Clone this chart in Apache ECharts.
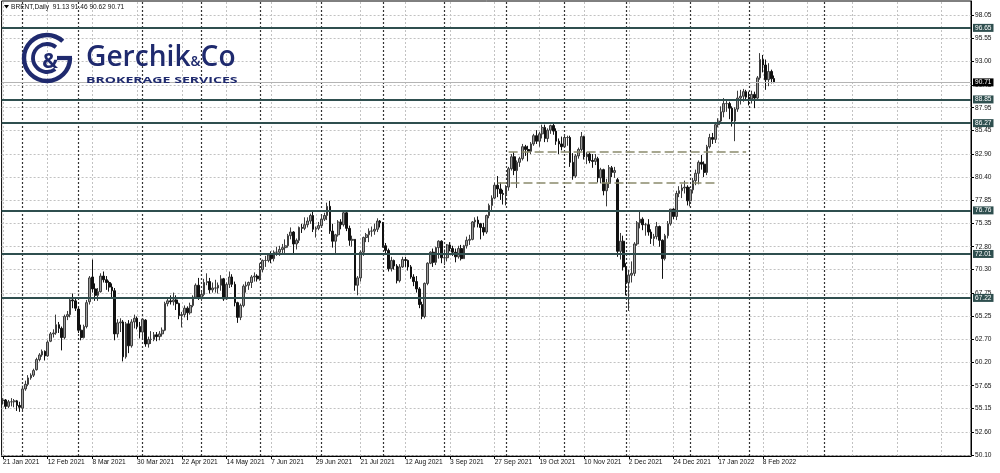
<!DOCTYPE html>
<html><head><meta charset="utf-8">
<script src="https://cdn.jsdelivr.net/npm/echarts@6/dist/echarts.min.js"></script>
<style>html,body{margin:0;padding:0;background:#fff}#c{width:1000px;height:473px}</style>
</head><body><div id="c"></div>
<script>
// ---------- data ----------
const xLabels = ['21 Jan 2021','12 Feb 2021','8 Mar 2021','30 Mar 2021','22 Apr 2021','14 May 2021','7 Jun 2021','29 Jun 2021','21 Jul 2021','12 Aug 2021','3 Sep 2021','27 Sep 2021','19 Oct 2021','10 Nov 2021','2 Dec 2021','24 Dec 2021','17 Jan 2022','8 Feb 2022'];
const labelStep = 16;
const barCount = 347;
const yTicks = [98.05,95.55,93.00,90.45,87.95,85.45,82.90,80.40,77.85,75.35,72.80,70.30,67.75,65.25,62.70,60.20,57.65,55.15,52.60,50.10];
const levels = [96.65, 88.85, 86.27, 76.76, 72.01, 67.22];
const lastPrice = 90.71;
const titleText = 'BRENT,Daily  91.13 91.46 90.62 90.71';
const monthSeparators = [7,27,50,71,92,114,136,158,180,201,223,246,267,294];
// [startIndex, endIndex, price]
const trendLines = [[181,266,83.1],[177,256,79.8]];
// [open, close, low, high]
const candles = [
[56.0,56.1,55.6,56.3],[56.1,55.4,55.1,56.2],[55.4,55.9,55.2,56.1],[55.9,55.9,55.4,56.3],[55.9,56.0,55.3,56.2],
[56.0,55.5,54.9,56.1],[55.5,55.3,54.8,55.9],[55.2,57.3,55.0,57.5],[57.3,57.8,57.1,58.2],[57.8,58.5,57.6,58.8],
[58.5,58.8,58.3,59.0],[58.8,59.3,58.6,59.5],[59.4,60.5,59.3,60.7],[60.5,61.0,60.3,61.2],[61.0,61.4,60.8,61.6],
[61.4,60.9,60.4,61.5],[60.9,62.4,60.8,62.6],[62.5,63.3,62.4,63.5],[63.3,63.4,62.9,63.8],[63.4,64.3,63.2,65.4],
[64.3,63.9,63.4,64.6],[63.9,62.9,61.5,64.1],[62.9,65.2,62.7,65.4],[65.2,65.4,64.8,65.8],[65.4,67.0,65.1,67.3],
[67.0,66.9,66.1,67.7],[66.9,66.1,65.8,67.1],[66.0,63.7,63.4,66.2],[63.7,62.9,62.6,64.3],[62.9,64.1,62.8,64.3],
[64.1,66.7,63.9,67.0],[66.8,69.4,66.5,69.6],[69.5,68.2,67.8,71.4],[68.2,67.5,66.9,68.8],[67.5,67.9,66.9,68.3],
[67.9,69.6,67.8,69.9],[69.6,69.2,68.9,70.1],[69.2,68.9,68.1,69.6],[68.9,68.4,67.9,69.1],[68.4,68.0,67.3,68.8],
[68.0,63.3,62.6,68.3],[63.3,64.5,62.9,64.9],[64.5,64.6,63.5,65.0],[64.6,60.8,60.3,64.8],[60.8,64.4,60.6,64.6],
[64.4,62.0,61.2,64.8],[62.0,64.6,61.8,64.9],[64.6,65.0,63.9,65.4],[65.0,64.1,63.8,65.2],[64.1,63.5,62.8,64.6],
[63.5,64.9,62.8,65.0],[64.8,62.2,61.9,64.9],[62.2,62.7,61.8,63.0],[62.7,62.7,62.2,63.6],[62.7,63.2,62.5,63.5],
[63.2,63.0,62.5,63.5],[63.0,63.3,62.6,63.6],[63.3,63.7,63.0,64.0],[63.7,66.6,63.6,66.8],[66.6,66.9,66.3,67.3],
[66.9,66.8,66.5,67.5],[66.8,67.0,66.4,67.8],[67.0,66.6,65.9,67.5],[66.6,65.3,64.9,66.7],[65.3,65.4,64.0,65.7],
[65.4,66.1,65.1,66.4],[66.1,65.6,64.8,66.3],[65.6,66.4,65.4,66.7],[66.4,67.3,66.2,67.5],[67.3,68.6,67.1,68.8],
[68.6,67.3,67.0,69.4],[67.3,67.6,66.9,67.9],[67.6,68.9,67.4,69.3],[68.9,69.0,68.6,69.9],[69.0,68.1,67.7,69.4],
[68.1,68.3,67.8,68.9],[68.3,68.3,67.8,69.2],[68.3,68.6,67.7,68.9],[68.6,69.3,68.0,69.7],[69.3,67.1,66.9,69.4],
[67.1,68.7,67.0,68.9],[68.7,69.5,68.3,70.1],[69.5,68.7,68.4,69.8],[68.7,66.7,66.3,69.0],[66.7,65.1,64.5,66.8],
[65.1,66.4,64.8,66.6],[66.4,68.5,66.2,68.7],[68.5,68.6,67.8,69.0],[68.6,68.9,68.1,69.0],[68.9,69.5,68.3,69.7],
[69.5,69.6,69.0,70.0],[69.6,69.3,69.0,69.8],[69.3,70.3,69.1,71.0],[70.3,71.3,70.0,71.4],[71.3,71.3,70.6,71.8],
[71.3,71.9,71.1,72.0],[71.9,71.5,71.0,72.3],[71.5,72.2,71.2,72.4],[72.2,72.2,71.8,72.8],[72.2,72.5,71.8,72.9],
[72.5,72.7,72.0,73.1],[72.7,72.9,72.1,73.6],[72.9,74.0,72.7,74.2],[74.0,74.4,73.6,74.9],[74.4,73.1,72.1,74.5],
[73.1,73.5,72.5,73.7],[73.5,74.9,73.2,75.0],[74.9,74.8,74.3,75.3],[74.8,75.2,74.6,76.0],[75.2,75.6,74.9,76.0],
[75.6,76.2,75.3,76.4],[76.2,74.7,74.4,76.6],[74.7,74.8,73.8,75.0],[74.8,75.1,74.6,75.5],[75.1,75.8,74.9,76.2],
[75.8,76.2,75.6,76.5],[76.2,77.2,75.7,77.6],[77.2,74.5,74.2,77.8],[74.5,73.4,72.7,75.3],[73.4,74.1,72.1,74.2],
[74.1,75.5,73.9,75.7],[75.5,75.2,74.7,75.8],[75.2,76.5,75.0,76.6],[76.5,74.8,74.5,76.6],[74.8,73.5,72.9,75.1],
[73.5,73.6,72.8,74.0],[73.6,68.6,68.0,73.6],[68.6,69.4,67.5,69.6],[69.4,72.2,69.0,72.4],[72.2,73.8,71.8,73.9],
[73.8,74.1,73.3,74.3],[74.1,74.5,73.3,74.8],[74.5,74.5,73.9,75.0],[74.5,74.7,74.1,75.3],[74.7,75.6,74.4,75.9],
[75.6,75.4,74.9,75.7],[75.4,72.9,72.7,75.5],[72.9,72.4,72.0,73.2],[72.4,70.4,70.1,72.6],[70.4,71.3,70.1,71.7],
[71.3,70.7,70.3,71.4],[70.7,69.1,68.8,70.9],[69.1,70.6,68.9,70.9],[70.6,71.4,70.5,71.7],[71.4,71.3,70.6,71.7],
[71.3,70.6,70.2,71.4],[70.6,69.5,69.3,70.8],[69.5,69.0,68.5,69.8],[69.0,68.2,67.8,69.6],[68.2,66.5,66.1,68.4],
[66.5,65.2,64.9,66.8],[65.2,68.8,65.0,68.9],[68.8,71.0,68.6,71.1],[71.0,72.2,70.9,72.3],[72.2,71.1,70.6,72.6],
[71.1,72.7,70.8,72.8],[72.7,73.4,71.5,73.5],[73.4,71.6,71.0,73.5],[71.6,71.6,70.8,72.5],[71.6,73.0,71.2,73.1],
[73.0,72.6,72.3,73.3],[72.6,72.2,71.8,72.9],[72.2,71.7,71.1,72.6],[71.7,72.6,71.5,72.9],[72.6,71.5,71.3,73.0],
[71.5,72.9,71.5,73.0],[72.9,73.5,72.6,73.9],[73.5,73.6,73.0,74.1],[73.6,75.5,73.5,75.6],[75.5,75.7,74.9,76.0],
[75.7,75.3,74.9,76.1],[75.3,74.9,73.6,75.4],[74.9,74.4,74.0,75.4],[74.4,76.2,74.2,76.3],[76.2,77.3,75.9,77.5],
[77.3,78.1,76.8,78.4],[78.1,79.5,78.0,79.8],[79.5,79.1,78.2,80.5],[79.1,78.6,77.9,79.8],[78.6,78.5,77.4,79.0],
[78.5,79.3,77.3,79.5],[79.3,81.3,78.9,81.5],[81.3,82.6,81.1,82.9],[82.6,81.1,80.6,83.1],[81.1,82.0,79.2,82.2],
[82.0,82.4,81.5,82.6],[82.4,83.7,82.2,84.0],[83.7,83.4,82.7,83.9],[83.4,83.2,82.1,83.8],[83.2,84.0,82.9,84.2],
[84.0,84.9,83.8,85.1],[84.9,84.3,84.0,85.5],[84.3,85.1,83.7,85.3],[85.1,85.8,84.6,86.1],[85.8,84.6,84.2,86.1],
[84.6,85.5,84.2,85.7],[85.5,86.0,85.1,86.1],[86.0,85.4,85.0,86.2],[85.4,84.3,83.9,85.7],[84.3,84.0,82.9,84.6],
[84.0,83.7,83.3,84.8],[83.7,84.7,83.6,85.0],[84.7,84.7,83.8,84.9],[84.7,82.0,81.5,84.9],[82.0,80.5,80.1,83.0],
[80.5,82.7,80.3,82.9],[82.7,83.4,82.4,83.6],[83.4,84.8,83.2,85.3],[84.8,82.6,82.3,84.9],[82.6,82.9,81.8,83.1],
[82.9,82.2,81.9,83.1],[82.2,82.1,81.4,82.9],[82.1,82.4,81.7,82.9],[82.4,80.3,79.8,82.6],[80.3,81.2,79.7,81.4],
[81.2,78.9,78.4,81.3],[78.9,79.7,77.2,80.2],[79.7,81.4,79.2,81.7],[81.4,80.9,80.4,81.6],[80.9,81.1,80.3,81.5],
[80.1,72.3,71.7,80.3],[72.3,73.4,71.4,74.3],[73.4,70.6,70.2,74.0],[70.6,68.9,67.5,71.0],[68.9,69.7,65.8,70.3],
[69.7,69.9,68.9,71.2],[69.9,73.1,69.6,73.3],[73.1,75.4,72.9,75.6],[75.4,75.8,74.8,76.6],[75.8,75.2,74.6,76.0],
[75.2,75.2,74.0,75.4],[75.2,74.4,74.0,75.8],[74.4,73.7,73.1,74.7],[73.7,73.9,72.9,74.2],[73.9,75.0,73.6,75.5],
[75.0,73.5,72.8,75.1],[73.5,71.5,69.3,73.6],[71.5,74.0,71.3,74.2],[74.0,75.3,73.7,75.6],[75.3,76.9,75.1,76.9],
[76.9,76.1,75.8,77.0],[76.1,78.6,75.7,78.9],[78.6,78.9,78.2,79.4],[78.9,79.2,78.1,79.6],[79.2,79.3,78.6,80.0],
[79.3,77.8,77.3,79.5],[77.8,79.0,77.2,79.3],[79.0,80.0,78.6,80.3],[80.0,80.8,79.5,81.2],[80.8,82.0,79.6,82.2],
[82.0,81.8,81.2,82.8],[81.8,80.9,80.4,82.1],[80.9,83.7,80.6,83.9],[83.7,84.7,83.5,85.1],[84.7,84.5,84.0,85.2],
[84.5,86.1,84.1,86.4],[86.1,86.5,85.8,86.8],[86.5,87.5,86.3,88.1],[87.5,88.4,86.9,89.0],[88.4,88.4,87.5,88.9],
[88.4,87.9,86.7,88.6],[87.9,86.5,85.9,88.1],[86.5,87.8,84.3,88.0],[87.8,89.0,87.5,89.8],[89.0,89.2,88.3,89.9],
[89.2,89.7,88.6,90.0],[89.7,89.1,88.8,89.9],[89.1,88.9,88.2,89.7],[88.9,89.4,88.4,89.8],[89.4,89.0,87.9,89.7],
[89.0,91.2,88.8,91.4],[91.2,93.2,91.0,93.9],[93.2,92.6,91.8,93.7],[92.6,91.0,89.9,93.2],[91.0,91.9,90.3,92.8],
[91.9,91.1,90.6,92.1],[91.13,90.71,90.62,91.46]
];

// ---------- chart ----------
const categories = Array.from({length: barCount}, (_, i) => String(i));
const showLabelAt = i => i % labelStep === 0 && i / labelStep < xLabels.length;
const gridColumns = categories.map((c, i) => i).filter(i => i % labelStep === 0);
const FONT = 'Liberation Sans';
const NAVY = '#1f2a6e';
const LEVEL = '#2f4f4f';

const chart = echarts.init(document.getElementById('c'), null, {renderer: 'canvas'});
chart.setOption({
  animation: false,
  backgroundColor: '#fff',
  grid: {left: 1.5, right: 29, top: 1, bottom: 17, show: true, borderColor: '#000', borderWidth: 1, backgroundColor: '#fff'},
  xAxis: {
    type: 'category', data: categories, boundaryGap: true,
    axisLine: {show: true, lineStyle: {color: '#000', width: 1}},
    axisTick: {show: true, alignWithLabel: true, interval: showLabelAt, length: 3, lineStyle: {color: '#000'}},
    axisLabel: {show: true, interval: showLabelAt, formatter: (v, idx) => xLabels[idx / labelStep] || '',
      align: 'left', margin: 3, fontSize: 6.6, fontFamily: FONT, color: '#111'},
    splitLine: {show: false}
  },
  yAxis: {
    type: 'value', position: 'right', min: 49.99, max: 99.58, scale: true,
    axisLine: {show: true, lineStyle: {color: '#000', width: 1}},
    axisTick: {show: true, customValues: yTicks, length: 3, lineStyle: {color: '#000'}},
    axisLabel: {show: true, customValues: yTicks, formatter: v => v.toFixed(2), margin: 4,
      fontSize: 6.6, fontFamily: FONT, color: '#111'},
    splitLine: {show: false}
  },
  series: [
    { // light grid
      type: 'line', data: [], silent: true,
      markLine: {silent: true, z: 1, symbol: ['none', 'none'], label: {show: false},
        lineStyle: {color: '#c2c2c2', type: [2, 2], width: 1},
        emphasis: {disabled: true},
        data: yTicks.map(v => ({yAxis: v})).concat(gridColumns.map(i => ({xAxis: i})))}
    },
    { // month separators
      type: 'line', data: [], silent: true,
      markLine: {silent: true, z: 1, symbol: ['none', 'none'], label: {show: false},
        lineStyle: {color: '#333', type: [2, 2], width: 1.2},
        emphasis: {disabled: true},
        data: monthSeparators.map(i => ({xAxis: i}))}
    },
    {
      type: 'candlestick', data: candles, barWidth: 2.2, z: 2,
      itemStyle: {color: '#9c9c9c', color0: '#111', borderColor: '#3c3c3c', borderColor0: '#111', borderWidth: 1}
    },
    { // bid line
      type: 'line', data: [], silent: true,
      markLine: {silent: true, z: 3, symbol: ['none', 'none'],
        lineStyle: {color: '#b4b4b4', type: 'solid', width: 1},
        label: {show: true, position: 'end', distance: 2, formatter: p => p.value.toFixed(2),
          backgroundColor: '#000', color: '#fff', padding: [1, 2, 0, 2], fontSize: 6.6, fontFamily: FONT},
        emphasis: {disabled: true},
        data: [{yAxis: lastPrice}]}
    },
    { // horizontal levels
      type: 'line', data: [], silent: true,
      markLine: {silent: true, z: 4, symbol: ['none', 'none'],
        lineStyle: {color: LEVEL, type: 'solid', width: 1.8},
        label: {show: true, position: 'end', distance: 2, formatter: p => p.value.toFixed(2),
          backgroundColor: LEVEL, color: '#fff', padding: [1, 2, 0, 2], fontSize: 6.6, fontFamily: FONT},
        emphasis: {disabled: true},
        data: levels.map(v => ({yAxis: v}))}
    },
    { // dashed trend lines
      type: 'line', data: [], silent: true,
      markLine: {silent: true, z: 4, symbol: ['none', 'none'], label: {show: false},
        lineStyle: {color: '#8a8a6c', type: [9, 4], width: 1.5},
        emphasis: {disabled: true},
        data: trendLines.map(t => [{coord: [t[0], t[2]]}, {coord: [t[1], t[2]]}])}
    }
  ],
  graphic: [
    {type: 'polygon', z: 10, shape: {points: [[4, 5], [9, 5], [6.5, 8.5]]}, style: {fill: '#000'}},
    {type: 'text', z: 10, x: 11, y: 7, style: {text: titleText, fontSize: 6.6, fontFamily: FONT, fill: '#111',
      align: 'left', verticalAlign: 'middle', textAlign: 'left', textVerticalAlign: 'middle'}},
    // logo emblem
    {type: 'arc', z: 10, shape: {cx: 47, cy: 58, r: 23, startAngle: 0, endAngle: Math.PI * 1.74, clockwise: true},
      style: {stroke: NAVY, lineWidth: 4.4, fill: null}},
    {type: 'line', z: 10, shape: {x1: 57, y1: 58, x2: 72, y2: 58}, style: {stroke: NAVY, lineWidth: 4.2}},
    {type: 'arc', z: 10, shape: {cx: 47, cy: 58, r: 14, startAngle: Math.PI * 0.3, endAngle: Math.PI * 1.72, clockwise: true},
      style: {stroke: NAVY, lineWidth: 3.8, fill: null}},
    {type: 'text', z: 10, x: 50, y: 62, style: {text: '&', fontSize: 21, fontWeight: 'bold', fontFamily: 'Open Sans', fill: NAVY,
      align: 'center', verticalAlign: 'middle', textAlign: 'center', textVerticalAlign: 'middle'}},
    {type: 'text', z: 10, x: 86, y: 58, scaleX: 0.97, style: {
      text: '{a|Gerchik}{b|&}{a|Co}', fill: NAVY, align: 'left', verticalAlign: 'middle', textAlign: 'left', textVerticalAlign: 'middle',
      rich: {a: {fontSize: 29, fontWeight: 600, fontFamily: 'Open Sans', fill: NAVY, color: NAVY},
             b: {fontSize: 14, fontWeight: 600, fontFamily: 'Open Sans', fill: NAVY, color: NAVY, padding: [8, 0, 0, 0]}}}},
    {type: 'text', z: 10, x: 86, y: 81, scaleX: 1.66, style: {text: 'BROKERAGE SERVICES', fontSize: 8.5, fontWeight: 'bold',
      fontFamily: 'Open Sans', fill: NAVY, align: 'left', verticalAlign: 'middle', textAlign: 'left', textVerticalAlign: 'middle'}}
  ]
});
</script></body></html>
